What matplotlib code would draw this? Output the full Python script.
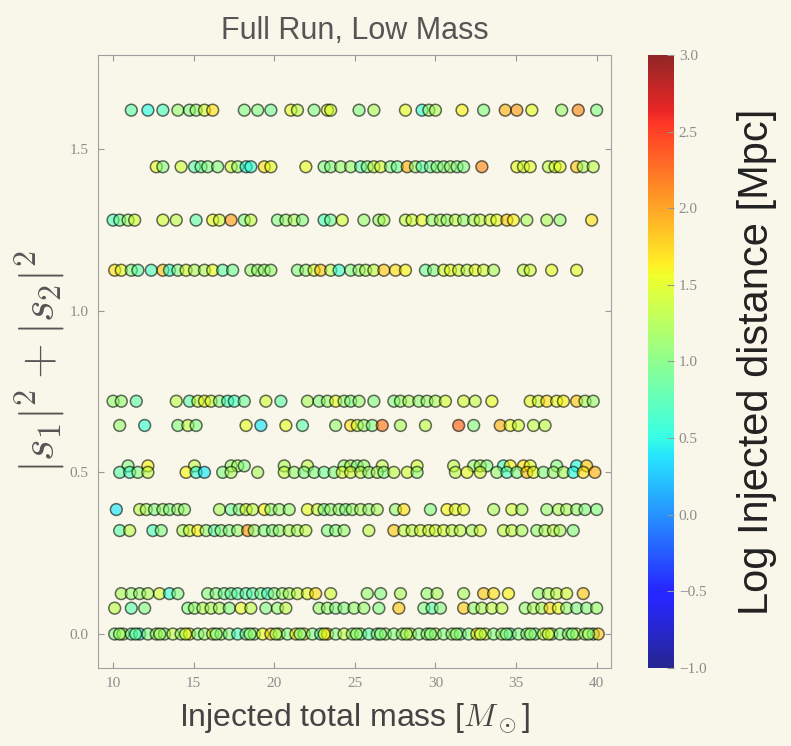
import numpy as np
import matplotlib
matplotlib.use("Agg")
import matplotlib.pyplot as plt

plt.rcParams["mathtext.fontset"] = "cm"

# |s1|^2 + |s2|^2 levels and the points on each level (mass, log distance)
mass_162 = [11.13, 12.16, 13.09, 14.02, 14.74, 15.15, 15.67, 16.18, 18.14, 18.97, 19.79, 21.03, 21.44,
            22.47, 23.30, 23.50, 25.26, 26.18, 28.14, 29.17, 29.59, 30.0, 31.65, 32.99, 34.33, 35.05,
            35.98, 37.83, 38.86, 40.0]
dist_162 = [0.8, 0.5, 0.7, 1.1, 1.0, 1.1, 1.4, 1.7, 1.0, 1.0, 0.9, 1.5, 1.3, 1.0, 1.5, 1.4, 1.0, 1.2,
            1.5, 0.6, 1.1, 1.2, 1.6, 1.0, 1.9, 2.0, 1.5, 1.1, 2.1, 1.0]

mass_1445 = [12.68, 13.09, 14.22, 15.05, 15.46, 15.87, 16.49, 17.32, 17.73, 18.25, 18.55, 19.38, 19.79,
             21.96, 23.09, 23.50, 24.12, 24.74, 25.36, 25.77, 26.18, 26.60, 27.21, 27.63, 28.25, 28.76,
             29.17, 29.69, 30.10, 30.51, 30.93, 31.34, 31.75, 32.88, 35.05, 35.46, 35.88, 37.01, 37.42,
             37.73, 38.76, 39.17, 39.79]
dist_1445 = [1.5, 1.0, 1.4, 0.8, 0.9, 1.0, 1.0, 1.4, 1.1, 0.5, 0.6, 1.7, 1.5, 1.5, 1.0, 1.0, 1.1, 1.1,
             0.8, 1.0, 1.3, 1.4, 1.0, 0.9, 1.9, 1.1, 0.8, 0.9, 1.0, 1.0, 1.1, 1.0, 1.0, 2.1, 1.5, 1.4,
             1.5, 1.3, 1.4, 1.5, 1.8, 1.2, 1.3]

mass_128 = [10.0, 10.41, 10.93, 11.34, 13.09, 13.92, 15.15, 16.18, 16.60, 17.32, 18.14, 18.55, 20.20,
            20.72, 21.24, 21.75, 23.09, 23.50, 24.22, 25.56, 26.49, 26.80, 28.14, 28.55, 29.17, 29.79,
            30.31, 30.72, 31.24, 31.75, 32.37, 32.78, 33.40, 33.81, 34.43, 34.84, 35.67, 36.91, 37.73,
            39.69]
dist_128 = [0.7, 0.9, 1.1, 1.4, 1.4, 1.3, 0.8, 1.5, 1.4, 2.0, 1.0, 1.3, 1.0, 1.1, 1.2, 1.0, 0.7, 0.9,
            1.4, 1.1, 1.1, 1.2, 1.3, 1.4, 1.5, 1.1, 1.2, 1.1, 1.3, 1.1, 1.2, 1.3, 1.4, 1.5, 1.8, 1.6,
            1.2, 1.2, 1.1, 1.7]

mass_1125 = [10.10, 10.51, 11.13, 11.54, 12.37, 13.09, 13.50, 14.02, 14.53, 15.05, 15.67, 16.18, 16.80,
             17.42, 18.55, 18.97, 19.38, 19.79, 21.44, 21.96, 22.47, 22.88, 23.50, 24.02, 24.74, 25.26,
             25.67, 26.18, 26.80, 27.52, 28.14, 29.38, 29.89, 30.51, 30.93, 31.44, 31.96, 32.47, 32.99,
             33.61, 35.46, 35.88, 37.21, 38.76]
dist_1125 = [1.7, 1.5, 1.0, 0.8, 0.7, 1.8, 0.6, 1.0, 1.4, 1.2, 1.2, 1.5, 0.8, 0.9, 1.1, 1.1, 1.1, 1.1,
             1.0, 1.1, 1.4, 1.8, 1.3, 0.6, 1.0, 1.1, 1.2, 1.3, 1.8, 1.7, 1.6, 0.9, 1.0, 1.4, 1.5, 1.4,
             1.3, 1.5, 1.4, 1.2, 1.3, 1.4, 1.5, 1.5]

mass_072 = [10.0, 10.51, 11.44, 13.92, 14.74, 15.26, 15.67, 16.08, 16.60, 17.11, 17.52, 18.14, 19.48,
            20.41, 22.06, 22.78, 23.30, 23.81, 24.33, 24.74, 25.26, 26.18, 27.42, 27.83, 28.35, 28.97,
            29.48, 30.0, 30.62, 31.75, 32.47, 33.50, 35.88, 36.39, 36.91, 37.52, 37.94, 38.76, 39.28,
            39.79]
dist_072 = [1.1, 1.1, 0.8, 1.3, 0.8, 1.3, 1.5, 1.4, 1.0, 0.7, 0.7, 0.9, 1.4, 0.8, 1.2, 1.0, 1.1, 1.5,
            1.1, 1.0, 1.1, 1.0, 1.0, 1.1, 1.2, 1.1, 1.1, 1.2, 1.4, 1.4, 1.3, 1.5, 1.5, 1.4, 1.7, 1.5,
            1.6, 1.8, 1.2, 1.1]

mass_0645 = [10.41, 11.96, 14.02, 14.64, 15.15, 18.25, 19.17, 20.72, 21.75, 23.81, 24.74, 25.15, 25.56,
             26.08, 26.70, 27.83, 29.38, 31.44, 32.37, 34.02, 34.64, 35.15, 36.08, 36.80]
dist_0645 = [1.1, 0.6, 1.0, 1.3, 1.0, 1.5, 0.4, 1.5, 0.8, 1.1, 1.7, 1.4, 1.1, 1.0, 2.2, 1.2, 1.3, 2.3,
             1.0, 1.9, 1.5, 1.4, 1.3, 1.3]

mass_052 = [10.93, 12.16, 15.05, 17.32, 17.73, 18.14, 20.62, 22.06, 24.33, 24.74, 25.15, 25.56, 26.70,
            28.86, 31.13, 32.37, 32.78, 33.19, 34.22, 34.64, 35.46, 35.88, 37.52, 38.76, 39.38]
dist_052 = [1.0, 1.6, 1.3, 1.1, 1.2, 1.0, 1.2, 1.3, 1.1, 1.2, 1.0, 1.1, 1.3, 1.4, 1.3, 1.1, 1.2, 1.0,
            0.7, 1.6, 1.7, 1.5, 1.0, 0.5, 1.8]

mass_050 = [10.41, 11.03, 11.54, 12.16, 14.53, 15.15, 15.67, 16.80, 17.32, 18.97, 20.62, 21.24, 21.85,
            22.47, 23.09, 23.71, 24.22, 24.74, 25.36, 25.87, 26.39, 26.80, 27.42, 28.25, 28.86, 31.24,
            31.96, 32.78, 33.81, 34.43, 35.05, 35.67, 36.08, 36.70, 37.32, 37.94, 38.55, 39.17, 39.89]
dist_050 = [0.8, 0.7, 1.0, 1.3, 1.6, 0.6, 0.4, 1.0, 1.2, 1.2, 1.3, 1.1, 1.0, 1.0, 0.9, 1.0, 1.4, 1.4,
            1.3, 1.1, 1.2, 1.0, 1.3, 1.4, 1.1, 1.3, 1.5, 1.4, 1.1, 0.7, 1.0, 1.8, 1.5, 1.0, 1.1, 1.2,
            0.5, 1.7, 1.9]

mass_0385 = [10.20, 11.65, 12.06, 12.57, 13.09, 13.50, 14.02, 14.43, 16.60, 17.32, 17.83, 18.25, 18.66,
             19.38, 19.79, 20.31, 20.93, 22.06, 22.68, 23.09, 23.50, 24.02, 24.43, 24.84, 25.36, 25.87,
             26.39, 27.52, 28.04, 29.69, 30.72, 31.24, 31.75, 33.61, 34.74, 35.36, 36.91, 37.63, 38.14,
             38.76, 39.28, 40.0]
dist_0385 = [0.4, 1.3, 1.2, 1.0, 1.1, 1.0, 1.1, 1.1, 1.2, 0.9, 1.0, 1.4, 1.3, 1.6, 1.1, 1.1, 1.1, 1.5,
             1.4, 1.0, 1.1, 1.1, 1.0, 1.1, 1.2, 1.1, 1.2, 1.1, 1.7, 1.0, 1.6, 1.5, 1.5, 1.2, 1.4, 1.2,
             1.1, 1.2, 1.2, 1.1, 1.0, 1.0]

mass_032 = [10.41, 11.03, 12.47, 12.99, 14.33, 14.74, 15.26, 15.77, 16.29, 16.70, 17.21, 17.73, 18.35,
            18.76, 19.38, 19.89, 20.31, 20.93, 21.44, 21.96, 23.30, 23.81, 24.33, 25.87, 27.42, 28.04,
            28.55, 29.07, 29.59, 30.0, 30.51, 31.03, 31.54, 32.27, 32.78, 34.22, 34.74, 35.36, 36.29,
            36.80, 37.32, 37.73, 38.55]
dist_032 = [0.8, 1.3, 0.7, 1.0, 1.2, 1.4, 1.6, 1.1, 0.8, 1.0, 1.0, 1.1, 2.0, 1.1, 1.0, 1.0, 1.1, 1.2,
            1.2, 1.3, 1.0, 1.0, 1.1, 1.3, 1.8, 1.3, 1.3, 1.4, 1.4, 1.4, 1.4, 1.3, 1.3, 1.2, 1.4, 1.3,
            1.3, 1.2, 1.1, 1.2, 1.3, 1.2, 1.0]

mass_0125 = [10.51, 11.13, 11.65, 12.16, 12.88, 13.50, 14.02, 15.87, 16.39, 16.90, 17.32, 17.73, 18.25,
             18.66, 19.17, 19.59, 20.0, 20.51, 20.93, 21.44, 22.06, 22.57, 23.50, 25.77, 26.60, 27.83,
             29.48, 30.10, 31.75, 32.99, 33.61, 34.53, 36.39, 37.01, 37.52, 38.14, 39.17]
dist_0125 = [1.2, 1.1, 1.1, 1.2, 1.4, 0.6, 1.0, 1.0, 1.0, 0.9, 0.9, 0.8, 0.8, 0.8, 0.9, 0.7, 1.0, 1.1,
             1.2, 1.3, 1.5, 1.7, 1.4, 1.1, 1.0, 1.2, 1.1, 1.2, 1.2, 1.8, 1.7, 1.6, 1.1, 1.2, 1.3, 1.4,
             1.8]

mass_008 = [10.10, 11.13, 11.96, 14.64, 15.05, 15.57, 16.08, 16.60, 17.21, 17.94, 18.55, 19.48, 20.20,
            20.72, 22.78, 23.30, 23.81, 24.33, 24.95, 25.56, 26.49, 27.73, 29.28, 29.79, 30.31, 31.75,
            32.37, 32.88, 33.50, 34.12, 35.57, 36.08, 36.60, 37.11, 37.63, 38.14, 38.76, 39.38, 40.0]
dist_008 = [1.3, 0.8, 1.0, 1.0, 1.1, 1.2, 1.2, 1.2, 1.0, 1.5, 1.3, 1.0, 1.1, 1.3, 1.1, 1.1, 1.0, 1.0,
            1.1, 1.1, 1.0, 1.8, 1.0, 0.8, 1.0, 1.8, 1.1, 1.2, 1.3, 1.3, 1.1, 1.2, 1.2, 1.7, 1.5, 1.1,
            1.0, 1.0, 1.1]

mass_000 = [10.10, 10.62, 11.13, 11.65, 12.16, 12.68, 13.19, 13.71, 14.22, 14.74, 15.26, 15.67, 16.18,
            16.70, 17.21, 17.73, 18.25, 18.76, 19.28, 19.79, 20.31, 20.82, 21.34, 21.85, 22.37, 22.88,
            23.30, 23.81, 24.33, 24.84, 25.36, 25.87, 26.39, 26.90, 27.42, 27.94, 28.45, 28.97, 29.48,
            30.0, 30.51, 31.03, 31.54, 32.06, 32.57, 33.09, 33.61, 34.12, 34.64, 35.15, 35.67, 36.18,
            36.70, 37.21, 37.73, 38.25, 38.76, 39.28, 39.79, 40.10,
            10.4, 11.4, 12.9, 14.5, 16.4, 18.5, 20.1, 21.6, 23.1, 25.1, 26.6, 28.2, 29.7, 31.3, 32.8,
            34.4, 35.9, 37.0, 38.5, 39.5]
dist_000 = [1.0, 1.3, 0.8, 0.5, 1.0, 1.1, 1.0, 1.3, 1.1, 1.6, 1.0, 1.1, 1.4, 1.2, 1.0, 0.7, 0.9, 1.0,
            1.5, 1.7, 1.3, 1.0, 1.6, 1.4, 1.0, 0.8, 1.8, 1.0, 1.3, 1.1, 1.0, 0.8, 1.0, 1.1, 1.0, 1.1,
            1.3, 1.0, 1.1, 1.2, 1.0, 1.1, 0.9, 1.0, 1.6, 1.4, 1.0, 1.1, 0.8, 1.0, 1.0, 0.9, 1.3, 1.2,
            1.0, 1.1, 1.3, 1.1, 0.8, 1.8,
            1.1, 0.9, 1.2, 1.4, 1.0, 1.1, 1.2, 1.0, 1.5, 1.1, 1.0, 1.2, 1.0, 1.1, 1.3, 1.0, 1.1, 1.4,
            1.0, 1.2]

rows = [
    (1.62, mass_162, dist_162),
    (1.445, mass_1445, dist_1445),
    (1.28, mass_128, dist_128),
    (1.125, mass_1125, dist_1125),
    (0.72, mass_072, dist_072),
    (0.645, mass_0645, dist_0645),
    (0.52, mass_052, dist_052),
    (0.5, mass_050, dist_050),
    (0.385, mass_0385, dist_0385),
    (0.32, mass_032, dist_032),
    (0.125, mass_0125, dist_0125),
    (0.08, mass_008, dist_008),
    (0.0, mass_000, dist_000),
]

x_ticks = [10, 15, 20, 25, 30, 35, 40]
y_ticks = [0.0, 0.5, 1.0, 1.5]
cbar_ticks = [-1.0, -0.5, 0.0, 0.5, 1.0, 1.5, 2.0, 2.5, 3.0]

BG = "#f8f7ea"
TICK_COLOR = "#8c8c8c"


def main():
    mass, spin, dist = [], [], []
    for level, m, d in rows:
        mass.extend(m)
        dist.extend(d)
        spin.extend([level] * len(m))
    mass = np.array(mass)
    spin = np.array(spin)
    dist = np.array(dist)

    fig = plt.figure(figsize=(7.91, 7.46), dpi=100, facecolor=BG)
    ax = fig.add_axes([0.124, 0.105, 0.648, 0.821], facecolor=BG)
    cax = fig.add_axes([0.819, 0.105, 0.033, 0.821])

    sc = ax.scatter(mass, spin, c=dist, cmap="jet", vmin=-1.0, vmax=3.0,
                    s=72, alpha=0.58, edgecolors="k", linewidths=1.1)

    ax.set_xlim(9.07, 40.87)
    ax.set_ylim(-0.104, 1.79)
    ax.set_xticks(x_ticks)
    ax.set_yticks(y_ticks)
    ax.set_xticklabels([str(t) for t in x_ticks])
    ax.set_yticklabels([f"{t:.1f}" for t in y_ticks])
    ax.tick_params(direction="in", top=True, right=True, length=4,
                   color="#999999", labelcolor=TICK_COLOR, labelsize=11, pad=7)
    for lab in ax.get_xticklabels() + ax.get_yticklabels():
        lab.set_family("Liberation Serif")
    for sp in ax.spines.values():
        sp.set_color("#a0a0a0")

    ax.set_title("Full Run, Low Mass", fontsize=22, color="#555555",
                 family="Liberation Sans", pad=12)
    ax.set_xlabel(r"Injected total mass [$M_\odot$]", fontsize=23,
                  color="#444444", family="Liberation Sans", labelpad=8)
    ax.set_ylabel(r"$|s_1|^2 + |s_2|^2$", fontsize=33, color="#555555", labelpad=2)

    cbar = fig.colorbar(sc, cax=cax, ticks=cbar_ticks)
    cbar.solids.set_alpha(0.85)
    cbar.outline.set_visible(False)
    cbar.ax.tick_params(direction="in", length=5, color="#999999",
                        labelcolor=TICK_COLOR, labelsize=11)
    cbar.ax.set_yticklabels([f"{t:.1f}".replace("-", "\u2212") for t in cbar_ticks])
    for lab in cbar.ax.get_yticklabels():
        lab.set_family("Liberation Serif")
    cbar.set_label("Log Injected distance [Mpc]", fontsize=30, color="#222222",
                   family="Liberation Sans", labelpad=22)

    fig.savefig("out.png", dpi=100, facecolor=BG)
    plt.close(fig)


if __name__ == "__main__":
    main()
